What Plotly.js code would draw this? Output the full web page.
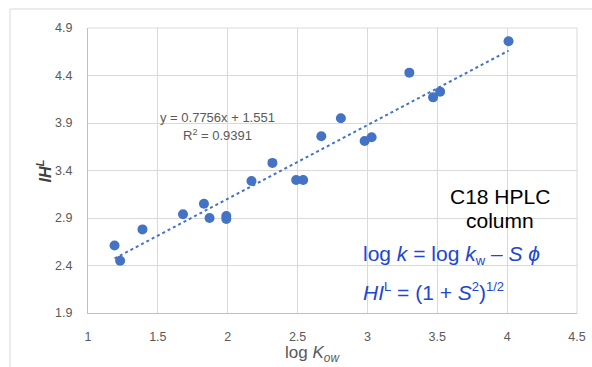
<!DOCTYPE html>
<html>
<head>
<meta charset="utf-8">
<script src="https://cdn.plot.ly/plotly-3.0.1.min.js"></script>
<style>html,body{margin:0;padding:0;background:#fff;}#chart{width:592px;height:367px;}</style>
</head>
<body>
<div id="chart"></div>
<script>
// Data
const logKow = [1.19, 1.23, 1.39, 1.68, 1.83, 1.87, 1.99, 1.99, 2.17, 2.32, 2.49, 2.54, 2.67, 2.81, 2.98, 3.03, 3.30, 3.47, 3.52, 4.01];
const IHL    = [2.61, 2.45, 2.78, 2.94, 3.05, 2.90, 2.92, 2.89, 3.29, 3.48, 3.30, 3.30, 3.76, 3.95, 3.71, 3.75, 4.43, 4.17, 4.23, 4.76];
const fitSlope = 0.7756;
const fitIntercept = 1.551;
const fitR2 = 0.9391;
const xTicks = [1, 1.5, 2, 2.5, 3, 3.5, 4, 4.5];
const yTicks = [1.9, 2.4, 2.9, 3.4, 3.9, 4.4, 4.9];

const xMin = Math.min(...logKow), xMax = Math.max(...logKow);
const trendX = [xMin, xMax];
const trendY = trendX.map(x => fitSlope * x + fitIntercept);

const blue = '#4472c4';
const gray = '#595959';
const txtBlue = '#2146d0';

const traces = [
  {x: trendX, y: trendY, mode: 'lines', type: 'scatter',
   line: {color: blue, width: 2, dash: 'dot'}, hoverinfo: 'skip'},
  {x: logKow, y: IHL, mode: 'markers', type: 'scatter',
   marker: {color: blue, size: 10}}
];

const sm = s => '<span style="font-size:13px">' + s + '</span>';

const layout = {
  width: 592, height: 367,
  margin: {l: 88, r: 15, t: 28, b: 54},
  paper_bgcolor: '#fff', plot_bgcolor: '#fff',
  showlegend: false,
  font: {family: 'Liberation Sans, Arial, sans-serif', color: gray},
  xaxis: {range: [1, 4.5], tickvals: xTicks, ticktext: xTicks.map(String),
    showgrid: true, gridcolor: '#d9d9d9', gridwidth: 1,
    showline: true, linecolor: '#bfbfbf', linewidth: 1, mirror: false,
    zeroline: false, ticks: '', ticklabelstandoff: 12,
    tickfont: {size: 12.5, color: gray}},
  yaxis: {range: [1.9, 4.9], tickvals: yTicks, ticktext: yTicks.map(v => v.toFixed(1)),
    showgrid: true, gridcolor: '#d9d9d9', gridwidth: 1,
    showline: true, linecolor: '#bfbfbf', linewidth: 1,
    zeroline: false, ticks: '', ticklabelstandoff: 12,
    tickfont: {size: 12.5, color: gray}},
  shapes: [
    {type: 'rect', xref: 'paper', yref: 'paper', x0: -0.1595, x1: 1.5, y0: -0.5, y1: 1.0667,
     line: {color: '#d9d9d9', width: 1}, fillcolor: 'rgba(0,0,0,0)', layer: 'below'},
    {type: 'line', xref: 'paper', yref: 'paper', x0: 1, x1: 1, y0: 0, y1: 1,
     line: {color: '#d9d9d9', width: 1}},
    {type: 'line', xref: 'paper', yref: 'paper', x0: 0, x1: 1, y0: 1, y1: 1,
     line: {color: '#d9d9d9', width: 1}}
  ],
  annotations: [
    {text: 'y = ' + fitSlope + 'x + ' + fitIntercept, x: 1.93, y: 3.963, xref: 'x', yref: 'y',
     showarrow: false, xanchor: 'center', yanchor: 'middle', font: {size: 13, color: gray}},
    {text: 'R<sup>2</sup> = ' + fitR2, x: 1.93, y: 3.774, xref: 'x', yref: 'y',
     showarrow: false, xanchor: 'center', yanchor: 'middle', font: {size: 13, color: gray}},
    {text: 'C18 HPLC', x: 3.947, y: 3.13, xref: 'x', yref: 'y', showarrow: false,
     xanchor: 'center', yanchor: 'middle', font: {size: 21, color: '#000'}},
    {text: 'column', x: 3.947, y: 2.87, xref: 'x', yref: 'y', showarrow: false,
     xanchor: 'center', yanchor: 'middle', font: {size: 21, color: '#000'}},
    {text: 'log <i>k</i> = log <i>k</i><sub>' + sm('w') + '</sub> – <i>S</i> <i>ϕ</i>', x: 2.955, y: 2.51, xref: 'x', yref: 'y',
     showarrow: false, xanchor: 'left', yanchor: 'middle', font: {size: 21, color: txtBlue}},
    {text: '<i>HI</i><sup>' + sm('L') + '</sup> = (1 + <i>S</i><sup>' + sm('2') + '</sup>)<sup>' + sm('1/2') + '</sup>', x: 2.955, y: 2.13, xref: 'x', yref: 'y',
     showarrow: false, xanchor: 'left', yanchor: 'middle', font: {size: 21, color: txtBlue}},
    {text: 'log <i>K<sub>ow</sub></i>', x: 0.46, y: -0.145, xref: 'paper', yref: 'paper',
     showarrow: false, xanchor: 'center', yanchor: 'middle', font: {size: 17, color: gray}},
    {text: '<b><i>IH<sup>L</sup></i></b>', x: -0.09, y: 0.5, xref: 'paper', yref: 'paper',
     showarrow: false, xanchor: 'center', yanchor: 'middle', textangle: -90, font: {size: 16, color: '#404040'}}
  ]
};

Plotly.newPlot('chart', traces, layout, {displayModeBar: false, staticPlot: true});
</script>
</body>
</html>
